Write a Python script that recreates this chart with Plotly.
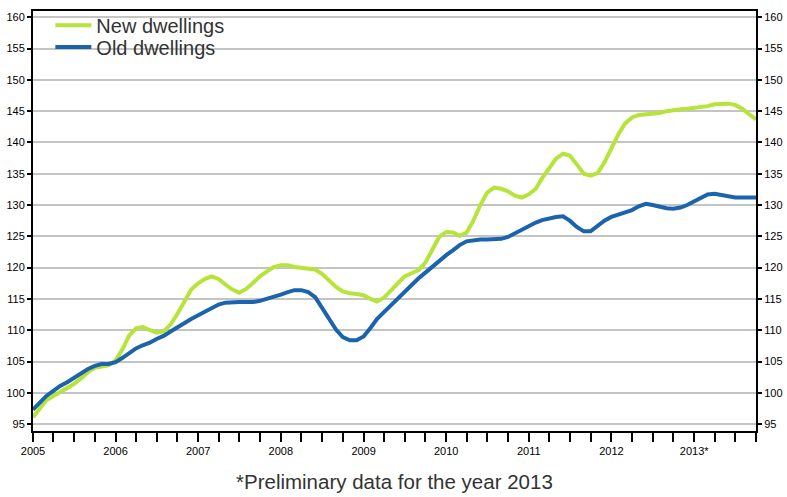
import plotly.graph_objects as go
import pandas as pd

months = pd.date_range("2005-01-01", periods=106, freq="MS")

new_dwellings = [
    96.1, 97.5, 98.8, 99.5, 100.1, 100.8, 101.4, 102.3, 103.3, 104.0, 104.2, 104.4,
    105.2, 107.0, 109.1, 110.3, 110.5, 110.0, 109.6, 109.8, 110.9, 112.6, 114.6, 116.5,
    117.5, 118.2, 118.6, 118.2, 117.3, 116.5, 116.0, 116.6, 117.6, 118.6, 119.4, 120.1,
    120.4, 120.4, 120.1, 120.0, 119.9, 119.7, 119.0, 117.9, 116.9, 116.2, 115.9, 115.8,
    115.6, 115.0, 114.6, 115.2, 116.3, 117.6, 118.6, 119.1, 119.6, 120.8, 123.0, 124.9,
    125.7, 125.6, 125.1, 125.6, 127.5, 130.0, 132.0, 132.8, 132.6, 132.2, 131.5, 131.2,
    131.7, 132.6, 134.3, 136.0, 137.4, 138.2, 137.9, 136.5, 135.0, 134.7, 135.1, 136.8,
    139.0, 141.3, 143.0, 144.0, 144.4, 144.5, 144.5, 144.7, 145.0, 145.2, 145.3, 145.4,
    145.5, 145.6, 145.8, 146.1, 146.2, 146.2, 146.0, 145.4, 144.5, 143.7,
]

old_dwellings = [
    97.3, 98.5, 99.5, 100.3, 101.1, 101.7, 102.4, 103.1, 103.8, 104.3, 104.6, 104.6,
    104.9, 105.6, 106.4, 107.1, 107.6, 108.0, 108.6, 109.1, 109.8, 110.5, 111.2, 111.8,
    112.4, 113.0, 113.6, 114.1, 114.4, 114.5, 114.5, 114.5, 114.5, 114.7, 115.0, 115.3,
    115.7, 116.1, 116.4, 116.4, 116.1, 115.3, 113.6, 111.8, 110.1, 108.9, 108.4, 108.4,
    109.0, 110.4, 111.8, 112.9, 114.0, 115.0, 116.2, 117.3, 118.3, 119.2, 120.2, 121.1,
    122.0, 122.8, 123.6, 124.2, 124.4, 124.5, 124.5, 124.5, 124.6, 124.9, 125.5, 126.1,
    126.7, 127.2, 127.6, 127.9, 128.1, 128.2, 127.5, 126.5, 125.8, 125.8, 126.6, 127.5,
    128.1, 128.5, 128.8, 129.2, 129.8, 130.2, 130.0, 129.7, 129.5, 129.4, 129.6, 130.0,
    130.6, 131.2, 131.7, 131.8, 131.6, 131.3, 131.2, 131.2, 131.2, 131.2,
]

year_labels = ["2005", "2006", "2007", "2008", "2009", "2010", "2011", "2012", "2013*"]
y_ticks = list(range(95, 161, 5))
footer = "*Preliminary data for the year 2013"

# quarterly tick positions, labels only at the start of each year
quarters = pd.date_range("2005-01-01", "2013-10-01", freq="QS")
tick_text = []
for q in quarters:
    if q.month == 1:
        tick_text.append(year_labels[q.year - 2005])
    else:
        tick_text.append("")

GREEN = "#b6e43a"
BLUE = "#1c63ae"
FONT = "Liberation Sans, Arial, sans-serif"

fig = go.Figure()
fig.add_trace(go.Scatter(x=months, y=new_dwellings, mode="lines", name="New dwellings",
                         line=dict(color=GREEN, width=4), legend="legend"))
fig.add_trace(go.Scatter(x=months, y=old_dwellings, mode="lines", name="Old dwellings",
                         line=dict(color=BLUE, width=4), legend="legend2"))
# invisible trace for right axis
fig.add_trace(go.Scatter(x=[months[0]], y=[None], yaxis="y2", showlegend=False,
                         hoverinfo="skip"))

leg_common = dict(xanchor="left", yanchor="middle",
                  font=dict(size=20, color="#333333", family=FONT),
                  bgcolor="rgba(0,0,0,0)", itemwidth=36,
                  borderwidth=0)

yr = [93.9, 161.0]
fig.update_layout(
    width=787, height=497,
    margin=dict(l=33, r=31, t=11, b=66, autoexpand=False),
    paper_bgcolor="white", plot_bgcolor="white",
    font=dict(family=FONT, color="#000000", size=11),
    showlegend=True,
    legend=dict(x=0.024, y=0.966, **leg_common),
    legend2=dict(x=0.024, y=0.914, **leg_common),
    xaxis=dict(
        type="date", automargin=False,
        range=[months[0], months[-1]],
        tickmode="array", tickvals=list(quarters), ticktext=tick_text,
        ticks="outside", ticklen=9, tickwidth=1.5, tickcolor="#000000",
        showline=True, linecolor="#000000", linewidth=2, mirror=True,
        showgrid=False, zeroline=False,
        tickfont=dict(size=11, color="#000000", family=FONT),
        tickangle=0,
    ),
    yaxis=dict(
        range=yr, tickvals=y_ticks, automargin=False,
        ticks="outside", ticklen=4, tickwidth=1.5, tickcolor="#000000",
        showline=True, linecolor="#000000", linewidth=2,
        showgrid=True, gridcolor="#c4c4c4", gridwidth=1.5,
        zeroline=False, tickfont=dict(size=11, color="#000000", family=FONT),
    ),
    yaxis2=dict(
        range=yr, tickvals=y_ticks, overlaying="y", side="right", automargin=False,
        ticks="outside", ticklen=4, tickwidth=1.5, tickcolor="#000000",
        showline=True, linecolor="#000000", linewidth=2,
        showgrid=False, zeroline=False,
        tickfont=dict(size=11, color="#000000", family=FONT),
    ),
    annotations=[dict(
        text=footer, xref="paper", yref="paper", x=0.5, y=-0.121,
        xanchor="center", yanchor="middle", showarrow=False,
        font=dict(size=20.5, color="#333333", family=FONT),
    )],
)

fig.write_html("out.html", config={"displayModeBar": False},
               post_script="document.body.style.margin='0px';")
